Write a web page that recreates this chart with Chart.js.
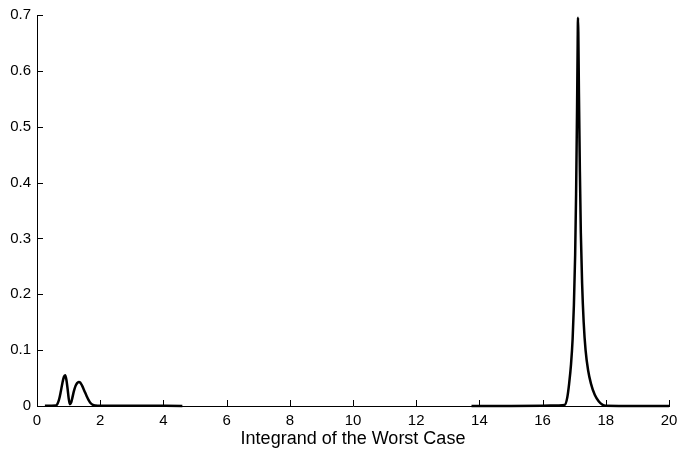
<!DOCTYPE html>
<html>
<head>
<meta charset="utf-8">
<script src="https://cdn.jsdelivr.net/npm/chart.js@4"></script>
<style>
  html, body { margin: 0; padding: 0; background: #fff; }
  #wrap { width: 681px; height: 453px; }
</style>
</head>
<body>
<div id="wrap"><canvas id="chart" width="681" height="453"></canvas></div>
<script>
// two small bumps near the origin
const nearX = [0.25, 0.6, 0.65, 0.7, 0.75, 0.8, 0.85, 0.89, 0.93, 0.97, 1.0, 1.04, 1.08, 1.12, 1.17, 1.22, 1.27, 1.32, 1.37, 1.43, 1.5, 1.57, 1.63, 1.7, 1.77, 1.85, 2.0, 3.0, 4.6];
const nearY = [0.0005, 0.001, 0.004, 0.012, 0.025, 0.04, 0.052, 0.055, 0.047, 0.03, 0.015, 0.003, 0.006, 0.015, 0.027, 0.036, 0.041, 0.043, 0.042, 0.036, 0.027, 0.018, 0.011, 0.005, 0.002, 0.001, 0.0005, 0.0003, 0.0002];

// the big spike around 17
const farX = [13.75, 15.0, 16.0, 16.5, 16.7, 16.78, 16.84, 16.9, 16.95, 16.99, 17.03, 17.06, 17.09, 17.11, 17.12, 17.13, 17.15, 17.18, 17.21, 17.25, 17.3, 17.36, 17.44, 17.53, 17.65, 17.78, 17.9, 18.0, 19.0, 20.0];
const farY = [0.0002, 0.0002, 0.0004, 0.001, 0.002, 0.015, 0.04, 0.075, 0.12, 0.18, 0.27, 0.38, 0.53, 0.65, 0.695, 0.67, 0.56, 0.42, 0.31, 0.22, 0.15, 0.1, 0.064, 0.04, 0.02, 0.008, 0.002, 0.0005, 0.0002, 0.0002];

const xTickLabels = ['0', '2', '4', '6', '8', '10', '12', '14', '16', '18', '20'];
const yTickLabels = ['0', '0.1', '0.2', '0.3', '0.4', '0.5', '0.6', '0.7'];
const xTitle = 'Integrand of the Worst Case';

const toPoints = (xs, ys) => xs.map((x, i) => ({ x: x, y: ys[i] }));

// matlab style ticks, pointing into the plot
const innerTicks = {
  id: 'innerTicks',
  afterDraw(chart) {
    const ctx = chart.ctx;
    const xs = chart.scales.x, ys = chart.scales.y;
    const len = 6;
    ctx.save();
    ctx.strokeStyle = '#000';
    ctx.lineWidth = 1;
    ctx.beginPath();
    xs.ticks.forEach((t, i) => {
      const px = Math.round(xs.getPixelForTick(i)) + 0.5;
      ctx.moveTo(px, ys.bottom);
      ctx.lineTo(px, ys.bottom - len);
    });
    ys.ticks.forEach((t, i) => {
      const py = Math.round(ys.getPixelForTick(i)) + 0.5;
      ctx.moveTo(xs.left, py);
      ctx.lineTo(xs.left + len, py);
    });
    ctx.stroke();
    ctx.restore();
  }
};

const lineStyle = {
  borderColor: '#000',
  borderWidth: 2.5,
  pointRadius: 0,
  fill: false,
  cubicInterpolationMode: 'monotone',
  clip: false
};

new Chart(document.getElementById('chart'), {
  type: 'line',
  data: {
    datasets: [
      Object.assign({ data: toPoints(nearX, nearY) }, lineStyle),
      Object.assign({ data: toPoints(farX, farY) }, lineStyle)
    ]
  },
  options: {
    responsive: false,
    animation: false,
    layout: { padding: { top: 14, right: 12, left: 0, bottom: 0 } },
    plugins: { legend: { display: false }, tooltip: { enabled: false } },
    scales: {
      x: {
        type: 'linear',
        min: 0,
        max: 20,
        afterFit(scale) { scale.height = 47; scale.paddingRight = 0; },
        ticks: {
          stepSize: 2,
          color: '#000',
          padding: 6,
          font: { family: 'Arial, "Liberation Sans", sans-serif', size: 15 },
          maxRotation: 0,
          callback: (v, i) => xTickLabels[i]
        },
        grid: { drawOnChartArea: false, drawTicks: false },
        border: { color: '#000', width: 1 },
        title: {
          display: true,
          text: xTitle,
          color: '#000',
          font: { family: 'Arial, "Liberation Sans", sans-serif', size: 18 },
          padding: { top: 0, bottom: 3 }
        }
      },
      y: {
        min: 0,
        max: 0.7,
        afterFit(scale) { scale.width = 37; },
        ticks: {
          stepSize: 0.1,
          color: '#000',
          padding: 6,
          font: { family: 'Arial, "Liberation Sans", sans-serif', size: 15 },
          callback: (v, i) => yTickLabels[i]
        },
        grid: { drawOnChartArea: false, drawTicks: false },
        border: { color: '#000', width: 1 }
      }
    }
  },
  plugins: [innerTicks]
});
</script>
</body>
</html>
